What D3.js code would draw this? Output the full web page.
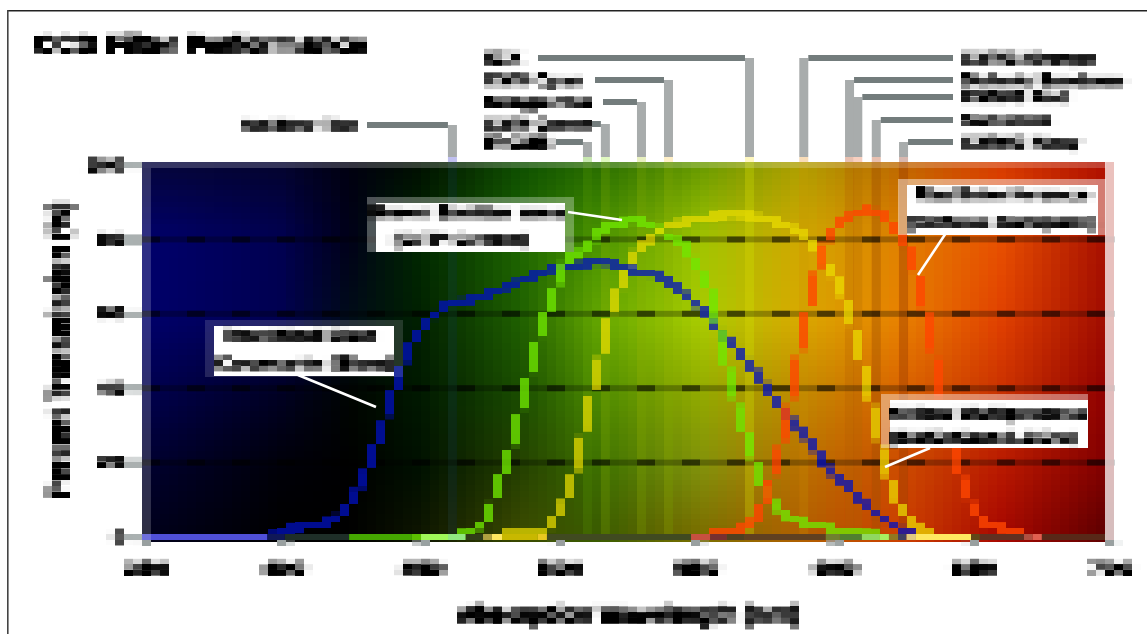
<!DOCTYPE html>
<html><head><meta charset="utf-8">
<script src="https://cdn.jsdelivr.net/npm/d3@7/dist/d3.min.js"></script>
<style>html,body{margin:0;padding:0;background:#fff}svg{display:block}
text{font-family:"Liberation Sans",Arial,sans-serif;font-weight:bold;fill:#000}</style></head>
<body><svg id="c" width="1147" height="634"></svg>
<script>
// ---------- data ----------
const titleText = "CCD Filter Performance";
const xLabel = "Absorption Wavelength (nm)";
const yLabel = "Percent Transmission (%)";
const xTicks = [350,400,450,500,550,600,650,700];
const yTicks = [0,20,40,60,80,100];

const blueWl = [350,394,399.3,412,418.6,421.8,425,428.6,432,435.3,438.2,441.4,444.7,448,451.2,455.2,459.2,468.3,484.3,500.2,507.8,514.7,522.7,529.2,536.5,543,549.9,552.8,559,565.9,572.4,578.6,585.5,592,598.5,605.1,611.6,618.1,625,630.8];
const blueVal = [0,0,1.7,3.3,4.9,7.1,10.8,15.1,22.4,27.8,35.8,42,49.3,53.8,57.3,60,62.4,63.8,68.3,72.6,73.1,73.9,72.6,71.2,69.9,66.7,62.4,60.8,54.6,49.2,43.3,36.6,30.4,24.3,17.6,13.5,8.2,4.7,1.7,0];
const greenWl = [460,467.9,471.2,474.5,477,480.6,483.9,487.2,490.4,493.7,497.3,502,510.7,515.1,521.3,527.8,534.7,539.8,546,549.2,552.5,555.7,559,562.3,565.5,569.2,572.4,575.7,578.6,585.1,593.1,602.2,616];
const greenVal = [0,1.7,3.1,6.3,12.5,19.7,27.8,38.5,47.4,57.3,63.7,73.9,78,82.5,84.1,85.2,83.3,80.6,77.7,73.7,69.1,63.7,51.1,42,32.3,24.3,16.2,11.7,8.2,4.7,3.3,1.7,0.6];
const yellowWl = [479,493.7,497.3,500.2,505.7,509.3,512.9,516.5,519.8,523.1,526.3,530,538.3,549.2,562.3,576.4,583.7,591.7,595.6,598.2,601.8,605.1,608.3,611.6,614.9,618.1,621.4,624.7,628.3,634.5];
const yellowVal = [0.9,1.4,3.6,7.1,18.1,30.2,42.3,53,63.7,68.3,75.3,78,83.3,85.2,86.6,85.2,83.3,79,75.3,71.8,67.2,60,51.7,40.9,30.2,19.4,11.7,6.8,3.6,0.9];
const redWl = [553.2,562.3,569.2,572.4,575,578.2,581.9,585.1,587.7,590.2,593.5,596.4,600,605.1,611.6,618.1,621,624.7,628,631.2,634.5,637.7,641,644.3,647.5,650.8,654,657.3,665,670];
const redVal = [1.7,1.7,3.6,6.3,10.8,18.6,29.6,41.7,52.2,61,71.8,78.5,83,86,87.9,86,83.3,79.8,74.5,65.6,54.6,42,30.2,20.5,12.5,7.1,4.1,3.1,1.7,1.2];
const curveNames = ["Rectified Blue","Green Emitter","Yellow Multiprocess","Red Interference"];
const curveColors = ["#0010c0","#70e800","#ecde00","#ff4600"];
const curveAlpha = [.75,.78,.72,.8];

// background sampling grid: wavelength columns, percent rows, colours top to bottom
const bgWl = [352,399,424,449,486,515,551,587,624,660,698];
const bgPct = [99,80,58,37,18,2];
const bgColors = [
 ["#04043e","#030330","#000010","#001000","#0f5000","#2a7000","#6a9c00","#b0a000","#c06800","#d83c00","#b01000"],
 ["#00006a","#000050","#000018","#002800","#1d6600","#4a9400","#a0c400","#d0a800","#e08000","#e85000","#a81000"],
 ["#000068","#000050","#000c18","#002000","#1f6000","#66a800","#a8cc00","#d8a800","#e88000","#e04000","#a00c00"],
 ["#00004a","#000020","#000400","#001800","#1a4c00","#4d8a00","#90a800","#c08800","#d86000","#c83000","#900000"],
 ["#00002c","#000008","#000000","#001000","#254000","#3d7000","#80900a","#b87000","#cc4a00","#b81800","#800000"],
 ["#00001c","#000000","#000000","#0c1400","#3a4a00","#3a5c00","#7a7000","#b06000","#cc4000","#a80800","#600000"]];

// baseline strip: segment end wavelength and colour
const stripEnd = [394,400.4,423.7,446.5,449.8,459.6,466,472.3,475.5,479.2,492.2,495.5,547.8,554.7,560.8,567.3,596.7,601.8,609.8,616.3,619.6,622.9,626,629.4,649.4,652.6,668.6,671.8,675.1,698.3];
const stripColor = ["#5050d8","#101858","#1e2e28","#45a800","#5cc000","#a0f858","#90e880","#303c18","#b0a040","#ffe860","#c8b800","#e8c820","#404a20","#c85040","#783030","#504020","#604020","#708030","#508030","#90d860","#a8f060","#907820","#404060","#e0c880","#ffe860","#604818","#603020","#b05040","#e06050","#582818"];

// leader labels
const leaderText = ["Hot-Mirror Filter","ICX","CMY Cyan","Magenta","CMY Green","RGB","CMYG Orange","Dichroic Bandpass","CMYG Red","Sunshine","CMYG Navy"];
const leaderWl = [461.2,569,539.6,529.8,516.7,510.2,588.7,605.3,608.3,615,624.9];
const leaderTint = ["#c0c0f0","#fff8c0","#fff0c8","#e8f0c0","#e0f8c0","#c8e8b0","#f8dcb8","#e8c0b0","#f8d0c0","#e8c0b0","#d8b8b0"];
const bandColor = ["#2050a0","#d8e000","#90b000","#90b000","#90b000","#60a000","#c89000","#b06000","#b06000","#a05000","#a04000"];
const bandAlpha = [.12,.3,.22,.22,.22,.2,.22,.25,.25,.4,.45];

const boxLines = [["Rectified Blue","Coumarin (Blue)"],["Green Emitter area","(GFP Green)"],["Red Interference","(Dichroic Bandpass)"],["Yellow Multiprocess","(SMD/Cam LCDs)"]];

// ---------- layout ----------
const x = d3.scaleLinear().domain([350,700]).range([146,1110.5]);
const y = d3.scaleLinear().domain([0,100]).range([537,165]);
const cellW = 9, cellH = 5.67;
const svg = d3.select("#c");

const defs = svg.append("defs");
function mosaic(id, blur, boost){
  const f = defs.append("filter").attr("id",id).attr("filterUnits","userSpaceOnUse")
    .attr("x",0).attr("y",0).attr("width",1147).attr("height",634)
    .attr("color-interpolation-filters","sRGB");
  f.append("feGaussianBlur").attr("in","SourceGraphic").attr("stdDeviation",blur).attr("result","soft");
  f.append("feComponentTransfer").attr("in","soft").attr("result","strong")
    .append("feFuncA").attr("type","linear").attr("slope",boost);
  f.append("feFlood").attr("x",2).attr("y",2).attr("width",1).attr("height",2).attr("flood-color","#000").attr("result","dot");
  f.append("feComposite").attr("in","dot").attr("in2","dot").attr("x",0).attr("y",0).attr("width",9).attr("height",6).attr("result","cell");
  f.append("feTile").attr("in","cell").attr("result","grid");
  f.append("feComposite").attr("in","strong").attr("in2","grid").attr("operator","in").attr("result","samples");
  f.append("feMorphology").attr("in","samples").attr("operator","dilate").attr("radius","4 2");
}
mosaic("mText","2 1.1",1.7);
mosaic("mCurve","0.4 0.4",1);

// frame
svg.append("rect").attr("x",7).attr("y",10).attr("width",1140).attr("height",1.5).attr("fill","#222");
svg.append("rect").attr("x",7).attr("y",10).attr("width",1.6).attr("height",624).attr("fill","#444");

// background cells
const cols = d3.range(142,1106,cellW), rows = d3.range(162,540,cellH);
const bg = svg.append("g");
function bgAt(w,p){
  const clampW = Math.max(bgWl[0],Math.min(bgWl[bgWl.length-1],w));
  const clampP = Math.max(bgPct[bgPct.length-1],Math.min(bgPct[0],p));
  let i = d3.bisectRight(bgWl,clampW)-1; i=Math.min(i,bgWl.length-2);
  let j = 0; while(j<bgPct.length-2 && clampP<bgPct[j+1]) j++;
  const tx=(clampW-bgWl[i])/(bgWl[i+1]-bgWl[i]), ty=(bgPct[j]-clampP)/(bgPct[j]-bgPct[j+1]);
  const a=d3.interpolateRgb(bgColors[j][i],bgColors[j][i+1])(tx), b=d3.interpolateRgb(bgColors[j+1][i],bgColors[j+1][i+1])(tx);
  return d3.interpolateRgb(a,b)(ty);
}
rows.forEach(ry=>{
  bg.selectAll(null).data(cols).join("rect")
    .attr("x",d=>d).attr("y",ry).attr("width",cellW+.3).attr("height",cellH+.3)
    .attr("shape-rendering","crispEdges")
    .attr("fill",d=>bgAt(x.invert(d+cellW/2),y.invert(ry+cellH/2)));
});

// vertical bands through the plot
svg.append("g").selectAll("rect").data(leaderWl).join("rect")
  .attr("x",d=>x(d)-4.5).attr("y",162).attr("width",9).attr("height",372)
  .attr("fill",(d,i)=>bandColor[i]).attr("fill-opacity",(d,i)=>bandAlpha[i]);

// grid rows
const inner = yTicks.filter(d=>d>0&&d<100);
svg.append("g").selectAll("rect").data(inner).join("rect")
  .attr("x",142).attr("y",d=>y(d)-3).attr("width",973).attr("height",6)
  .attr("fill","#000").attr("fill-opacity",.28);
svg.append("g").selectAll("line").data(inner).join("line")
  .attr("x1",142).attr("x2",1115).attr("y1",d=>y(d)).attr("y2",d=>y(d))
  .attr("stroke","#000").attr("stroke-width",6).attr("stroke-opacity",.5).attr("stroke-dasharray","18 27");

// curves
const wlSets=[blueWl,greenWl,yellowWl,redWl], valSets=[blueVal,greenVal,yellowVal,redVal];
const lineGen=d3.line().x(d=>x(d[0])).y(d=>y(d[1])).curve(d3.curveMonotoneX);
const cg=svg.append("g").attr("filter","url(#mCurve)");
curveNames.forEach((n,i)=>{
  cg.append("path").datum(d3.zip(wlSets[i],valSets[i])).attr("d",lineGen)
    .attr("fill","none").attr("stroke",curveColors[i]).attr("stroke-width",7.5)
    .attr("stroke-opacity",curveAlpha[i]);
});

// baseline strip
const stripStart=[350].concat(stripEnd.slice(0,-1));
svg.append("g").selectAll("rect").data(stripEnd).join("rect")
  .attr("x",(d,i)=>i==0?142:x(stripStart[i])).attr("y",534).attr("height",6)
  .attr("width",(d,i)=>x(d)-(i==0?142:x(stripStart[i])))
  .attr("fill",(d,i)=>stripColor[i]);

// plot edge overlays
svg.append("rect").attr("x",142).attr("y",162).attr("width",964).attr("height",6).attr("fill","#fff").attr("fill-opacity",.2);
svg.append("rect").attr("x",142).attr("y",168).attr("width",9).attr("height",372).attr("fill","#fff").attr("fill-opacity",.18);
svg.append("rect").attr("x",1105).attr("y",162).attr("width",9.5).attr("height",378).attr("fill","#fff").attr("fill-opacity",.74);

// leaders (band column above the plot, horizontal run to the label)
const leaderRow=[125,58,80,102,124,142,58,80,97,120,142];
const leaderFrom=[367,538,595,603,592,556,953,953,953,953,953];
const lg=svg.append("g");
leaderWl.forEach((w,i)=>{
  const cx=x(w);
  lg.append("rect").attr("x",cx-4.5).attr("y",leaderRow[i]).attr("width",9).attr("height",157-leaderRow[i]).attr("fill","#a8acac");
  lg.append("rect").attr("x",cx-4.5).attr("y",157).attr("width",9).attr("height",5).attr("fill",leaderTint[i]);
  const a=Math.min(leaderFrom[i],cx+4.5), b=Math.max(leaderFrom[i],cx-4.5);
  lg.append("rect").attr("x",a).attr("y",leaderRow[i]-3).attr("width",b-a).attr("height",6).attr("fill","#737c7c");
});

// callout boxes
const boxOuter=[[205,320,198,57],[367,197,207,55],[898,179,208,56],[881,394,207,54]];
const boxInner=[[214,326,180,50],[376,203,189,49],[907,185,191,50],[890,400,198,48]];
const boxEdgeAlpha=[.14,.3,.45,.4];
const pointer=[[298,375,376,407],[568,212,622,220],[948,230,918,275],[930,448,885,467]];
boxOuter.forEach((b,i)=>{
  const inn=boxInner[i];
  svg.append("rect").attr("x",b[0]).attr("y",b[1]).attr("width",b[2]).attr("height",b[3]).attr("fill","#fff").attr("fill-opacity",boxEdgeAlpha[i]);
  svg.append("rect").attr("x",inn[0]).attr("y",inn[1]).attr("width",inn[2]).attr("height",inn[3]).attr("fill","#fff");
  const p=pointer[i];
  svg.append("line").attr("x1",p[0]).attr("y1",p[1]).attr("x2",p[2]).attr("y2",p[3]).attr("stroke","#fff").attr("stroke-width",2.6);
});

// all text goes through the mosaic
const tg=svg.append("g").attr("filter","url(#mText)");
function label(s,x0,yc,w,fs,anchor){
  return tg.append("text").text(s).attr("x",x0).attr("y",yc).attr("dy","0.36em")
    .attr("font-size",fs).attr("textLength",w).attr("lengthAdjust","spacingAndGlyphs")
    .attr("text-anchor",anchor||"start");
}
label(titleText,34,44,332,25);
const leaderLabelX=[242,485,485,485,485,485,962,962,962,962,962];
const leaderLabelW=[116,37,98,107,107,67,133,163,108,90,118];
leaderText.forEach((t,i)=>label(t,leaderLabelX[i],leaderRow[i],leaderLabelW[i],16));

const boxTextY=[[335,363],[212,239],[194,222],[413,437]];
const boxTextX=[[222,215],[368,392],[915,907],[888,890]];
const boxTextW=[[155,178],[195,135],[175,190],[198,185]];
boxLines.forEach((ls,i)=>ls.forEach((t,j)=>label(t,boxTextX[i][j],boxTextY[i][j],boxTextW[i][j],16)));

const xA=tg.append("g").attr("transform","translate(0,540)")
  .call(d3.axisBottom(x).tickValues(xTicks).tickSize(6).tickPadding(16).tickFormat(d3.format("d")));
xA.select(".domain").remove();
xA.selectAll("line").attr("stroke","#99a0a0").attr("stroke-width",9);
xA.selectAll("text").attr("font-size",18).attr("font-family",null).attr("textLength",44).attr("lengthAdjust","spacingAndGlyphs");
const yA=tg.append("g").attr("transform","translate(142,0)")
  .call(d3.axisLeft(y).tickValues(yTicks).tickSize(17).tickPadding(1).tickFormat(d3.format("d")));
yA.select(".domain").remove();
yA.selectAll("line").attr("stroke","#aab0b0").attr("stroke-width",6);
yA.selectAll("text").attr("font-size",16).attr("font-family",null)
  .attr("textLength",d=>d==100?37:d==0?11:26).attr("lengthAdjust","spacingAndGlyphs");

label(xLabel,458,613,341,24);
tg.append("text").text(yLabel).attr("transform","translate(58,350) rotate(-90)")
  .attr("text-anchor","middle").attr("dy","0.36em").attr("font-size",27)
  .attr("textLength",297).attr("lengthAdjust","spacingAndGlyphs");
</script></body></html>
